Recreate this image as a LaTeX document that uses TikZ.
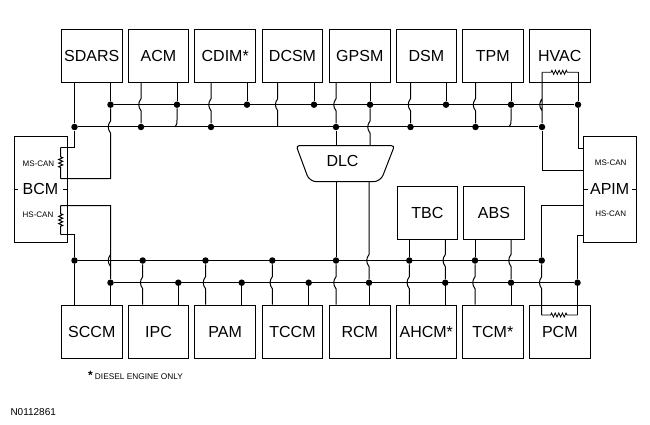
\documentclass[tikz,border=0pt]{standalone}
\usepackage{fontspec}
\setmainfont{Liberation Sans}
\usetikzlibrary{calc,decorations.pathmorphing}

%bus heights
\newcommand{\busa}{104.7}
\newcommand{\busb}{127}
\newcommand{\busc}{260.5}
\newcommand{\busd}{282.7}
%wire bends round a bus it does not join
\newcommand{\hop}[2]{-- (#1,#2-6) .. controls (#1-3,#2-2) and (#1-3,#2+2) .. (#1,#2+6)}

\tikzset{
    module/.style={draw, inner sep=0, minimum width=60.5, minimum height=53, font=\fontsize{16}{18}\selectfont},
    side/.style={draw, inner sep=0, minimum width=53, minimum height=106, font=\fontsize{16}{18}\selectfont},
    canlabel/.style={inner sep=0, font=\fontsize{8}{9}\selectfont},
    junction/.style={circle, fill=black, inner sep=0, minimum size=6.5},
    resistor/.style={decorate, decoration={zigzag, amplitude=2, segment length=3.6, pre length=#1, post length=#1}}
}

\begin{document}
\begin{tikzpicture}[x=1pt, y=-1pt, line width=1pt]
    \useasboundingbox (0,0) rectangle (650,425);

    %modules
        \foreach \n/\lab/\x in {sdars/SDARS/91.8, acm/ACM/158.5, cdim/CDIM*/225.2, dcsm/DCSM/292.5, gpsm/GPSM/359.8, dsm/DSM/426.3, tpm/TPM/492.8, hvac/HVAC/559.8}{
            \node[module] (\n) at (\x,55.7) {\lab};
        }
        \foreach \n/\lab/\x in {sccm/SCCM/91.8, ipc/IPC/158.5, pam/PAM/225.2, tccm/TCCM/292.5, rcm/RCM/359.8, ahcm/AHCM*/426.3, tcm/TCM*/492.8, pcm/PCM/559.8}{
            \node[module] (\n) at (\x,331.5) {\lab};
        }
        \node[module] (tbc) at (427.3,212.5) {TBC};
        \node[module] (abs) at (494,213) {ABS};
        \node[side] (bcm) at (40.5,189) {BCM};
        \node[side] (apim) at (609.7,189) {APIM};
        \node[canlabel] (bcmms) at (38.5,163.3) {MS-CAN};
        \node[canlabel] (bcmhs) at (38,215) {HS-CAN};
        \node[canlabel] (apimms) at (610.7,163) {MS-CAN};
        \node[canlabel] (apimhs) at (610.7,214) {HS-CAN};

    %DLC outline
        \coordinate (dlct) at (345.5,145.7);
        \coordinate (dlcb) at (345.5,181.7);
        \draw[rounded corners=3] (dlct) -- (394.5,145.7) [rounded corners=7] -- (380.5,181.7) -- (309.5,181.7) [rounded corners=3] -- (296.2,145.7) -- cycle;
        \node[inner sep=0, font=\fontsize{16}{18}\selectfont] (dlc) at (342.5,161.3) {DLC};

    %ticks beside the side modules
        \draw (bcm.west) -- ++(4,0);
        \draw (bcm.east) -- ++(-5,0);
        \draw (apim.west) -- ++(5,0);
        \draw (apim.east) -- ++(-5,0);

    %points on the side modules and resistors
        \coordinate (bcmra) at (60.7,147.3);
        \coordinate (bcmrb) at (60.7,178.5);
        \coordinate (bcmrc) at (60.7,205.7);
        \coordinate (bcmrd) at (60.7,234.7);
        \coordinate (apima) at (583.3,148);
        \coordinate (apimb) at (583.3,170);
        \coordinate (apimc) at (583.3,205.7);
        \coordinate (apimd) at (583.3,235);
        \coordinate (hvacra) at (542,72.3);
        \coordinate (hvacrb) at (578,72.3);
        \coordinate (pcmra) at (541.7,315);
        \coordinate (pcmrb) at (577.5,315);

    %upper modules, lower bus
        \foreach \n/\x in {sdars/74.5, hvac/542}{
            \node[junction] (\n A) at (\x,\busb) {};
        }
        \foreach \n/\x in {acm/141, cdim/211, gpsm/336, dsm/410.5, tpm/475.5}{
            \node[junction] (\n A) at (\x,\busb) {};
            \draw (\n.south -| \n A) \hop{\x}{\busa} -- (\n A);
        }
        \draw (sdars.south -| sdarsA) -- (sdarsA);

    %upper modules, upper bus
        \foreach \n/\x in {sdars/110.5, acm/177, cdim/247, dcsm/314, gpsm/370, dsm/446, tpm/511, hvac/578}{
            \node[junction] (\n B) at (\x,\busa) {};
            \draw (\n.south -| \n B) -- (\n B);
        }

    %wires without a junction on the lower bus
        \draw (dcsm.south -| 277.7,0) \hop{277.7}{\busa} -- (277.7,\busb);
        \draw (acmB) -- (177,\busb-7) .. controls (177,\busb-3) .. (175,\busb);
        \draw (tpmB) -- (511,\busb-7) .. controls (511,\busb-3) .. (509,\busb);

    %lower modules, upper bus
        \foreach \n/\x in {sccm/74.5, pcm/541.7}{
            \node[junction] (\n A) at (\x,\busc) {};
        }
        \foreach \n/\x in {ipc/142.7, pam/205.5, tccm/272.3, rcm/336, ahcm/409.3, tcm/475}{
            \node[junction] (\n A) at (\x,\busc) {};
            \draw (\n A) \hop{\x}{\busd} -- (\n.north -| \n A);
        }
        \draw (sccmA) -- (sccm.north -| sccmA);

    %lower modules, lower bus
        \foreach \n/\x in {sccm/110.5, ipc/178.3, pam/241.7, tccm/308.7, rcm/369, ahcm/445.3, tcm/511, pcm/577.5}{
            \node[junction] (\n B) at (\x,\busd) {};
            \draw (\n B) -- (\n.north -| \n B);
        }

    %buses
        \draw (sdarsB) -- (hvacB);
        \draw (sdarsA) -- (hvacA);
        \draw (sccmA) -- (pcmA);
        \draw (sccmB) -- (pcmB);

    %BCM wires
        \draw (sdarsA) |- (bcmra);
        \draw (sdarsB) \hop{110.5}{\busb} |- (bcmrb);
        \draw (sccmA) |- (bcmrd);
        \draw (sccmB) \hop{110.5}{\busc} |- (bcmrc);
        \draw[resistor=9.5] (bcmra) -- (bcmrb);
        \draw[resistor=8] (bcmrc) -- (bcmrd);

    %APIM wires
        \draw (hvacB) |- (apima);
        \draw (hvacA) |- (apimb);
        \draw (pcmA) |- (apimc);
        \draw (pcmB) |- (apimd);

    %terminating resistors
        \draw (hvacA) \hop{542}{\busa} -- (hvacra);
        \draw (hvacB) -- (hvacrb);
        \draw[resistor=9, line width=.8pt] (hvacra) -- (hvacrb);
        \draw (pcmA) \hop{541.7}{\busd} -- (pcmra);
        \draw (pcmB) -- (pcmrb);
        \draw[resistor=9, line width=.8pt] (pcmra) -- (pcmrb);

    %DLC wires
        \draw (gpsmA) -- (dlct -| gpsmA);
        \draw (gpsmB) \hop{370}{\busb} -- (dlct -| gpsmB);
        \draw (dlcb -| rcmA) -- (rcmA);
        \draw (dlcb -| rcmB) \hop{369}{\busc} -- (rcmB);

    %TBC and ABS wires
        \draw (tbc.south -| ahcmA) -- (ahcmA);
        \draw (tbc.south -| ahcmB) \hop{445.3}{\busc} -- (ahcmB);
        \draw (abs.south -| tcmA) -- (tcmA);
        \draw (abs.south -| tcmB) \hop{511}{\busc} -- (tcmB);

    %notes
        \node[anchor=west, inner sep=0, font=\fontsize{8.3}{9}\selectfont] (note) at (87.5,375.5) {{\fontsize{12}{9}\selectfont\bfseries *} DIESEL ENGINE ONLY};
        \node[anchor=west, inner sep=0, font=\fontsize{10}{12}\selectfont] (figid) at (10,412) {N0112861};
\end{tikzpicture}
\end{document}
